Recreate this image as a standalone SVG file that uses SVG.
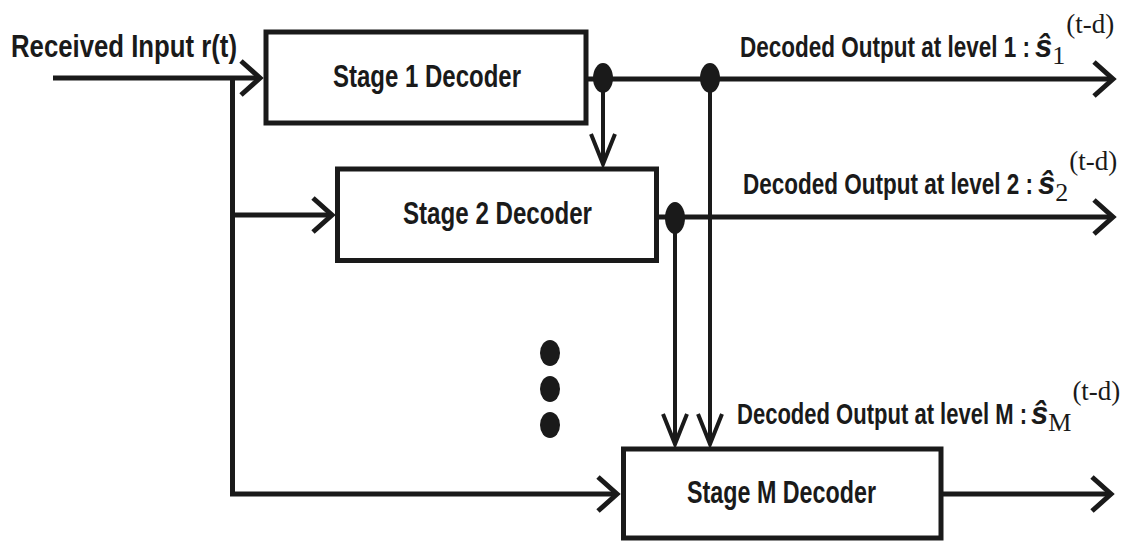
<svg xmlns="http://www.w3.org/2000/svg" width="1133" height="541" viewBox="0 0 1133 541">
<style>
.box{fill:#fff;stroke:#1a1a1a;stroke-width:5}
.ln{fill:none;stroke:#1a1a1a;stroke-width:5}
.lv{fill:none;stroke:#1a1a1a;stroke-width:4}
.dot{fill:#1a1a1a}
.lbl{font-family:"Liberation Sans",Arial,sans-serif;font-weight:bold;font-size:30px;fill:#1a1a1a}
.stg{font-family:"Liberation Sans",Arial,sans-serif;font-weight:bold;font-size:31px;fill:#1a1a1a}
.hat{font-family:"Liberation Sans",Arial,sans-serif;font-weight:bold;font-style:italic;font-size:31px}
.sub{font-family:"Liberation Serif","Times New Roman",serif;font-weight:normal;font-size:26px}
.sup{font-family:"Liberation Serif","Times New Roman",serif;font-weight:normal;font-size:27px}
</style>
<defs>
<marker id="ah" markerUnits="userSpaceOnUse" markerWidth="60" markerHeight="60" viewBox="-30 -30 60 60" refX="0" refY="0" orient="auto" overflow="visible">
<path d="M-19,-17 L0,0 L-19,17" fill="none" stroke="#1a1a1a" stroke-width="5"/>
</marker>
<marker id="av" markerUnits="userSpaceOnUse" markerWidth="60" markerHeight="60" viewBox="-30 -30 60 60" refX="0" refY="0" orient="auto" overflow="visible">
<path d="M-30,-12 L0,0 L-30,12" fill="none" stroke="#1a1a1a" stroke-width="4"/>
</marker>
</defs>
<rect width="1133" height="541" fill="#fff"/>

<g id="connectors">
<path class="ln" d="M53,78 H260" marker-end="url(#ah)"/>
<path class="ln" d="M232.5,78 V494 H617" marker-end="url(#ah)"/>
<path class="ln" d="M232.5,215 H332" marker-end="url(#ah)"/>
<path class="ln" d="M588,79 H1113" marker-end="url(#ah)"/>
<path class="ln" d="M659,217 H1113" marker-end="url(#ah)"/>
<path class="ln" d="M943,494 H1111" marker-end="url(#ah)"/>
<path class="lv" d="M603,79 V164" marker-end="url(#av)"/>
<path class="lv" d="M710,79 V444" marker-end="url(#av)"/>
<path class="lv" d="M675,218 V444" marker-end="url(#av)"/>
<ellipse class="dot" cx="603" cy="78" rx="10" ry="15"/>
<ellipse class="dot" cx="710" cy="78" rx="10" ry="15"/>
<ellipse class="dot" cx="675" cy="218" rx="10" ry="16"/>
</g>

<g id="input-label">
<text class="lbl" x="11" y="57" style="font-size:32px" textLength="226" lengthAdjust="spacingAndGlyphs">Received Input r(t)</text>
</g>

<g id="stage1">
<rect class="box" x="266" y="32" width="320" height="91"/>
<text class="stg" x="333" y="87" textLength="188" lengthAdjust="spacingAndGlyphs">Stage 1 Decoder</text>
</g>

<g id="stage2">
<rect class="box" x="337.5" y="169" width="319" height="91.5"/>
<text class="stg" x="403" y="224" textLength="189" lengthAdjust="spacingAndGlyphs">Stage 2 Decoder</text>
</g>

<g id="stageM">
<rect class="box" x="623.5" y="449" width="317.5" height="89"/>
<text class="stg" x="687" y="503" textLength="189" lengthAdjust="spacingAndGlyphs">Stage M Decoder</text>
</g>

<g id="dots">
<ellipse class="dot" cx="550" cy="353" rx="10" ry="13"/>
<ellipse class="dot" cx="550" cy="389" rx="10" ry="13"/>
<ellipse class="dot" cx="550" cy="425" rx="10" ry="13"/>
</g>

<g id="output1">
<text class="lbl" y="57"><tspan x="740" textLength="290" lengthAdjust="spacingAndGlyphs">Decoded Output at level 1 :</tspan><tspan class="hat" x="1035">ŝ</tspan><tspan class="sub" dy="7">1</tspan><tspan class="sup" dx="1" dy="-31">(t-d)</tspan></text>
</g>

<g id="output2">
<text class="lbl" y="194"><tspan x="743" textLength="290" lengthAdjust="spacingAndGlyphs">Decoded Output at level 2 :</tspan><tspan class="hat" x="1038">ŝ</tspan><tspan class="sub" dy="7">2</tspan><tspan class="sup" dx="1" dy="-31">(t-d)</tspan></text>
</g>

<g id="outputM">
<text class="lbl" y="424"><tspan x="737" textLength="290" lengthAdjust="spacingAndGlyphs">Decoded Output at level M :</tspan><tspan class="hat" x="1031">ŝ</tspan><tspan class="sub" dy="7">M</tspan><tspan class="sup" dx="1" dy="-31">(t-d)</tspan></text>
</g>
</svg>
